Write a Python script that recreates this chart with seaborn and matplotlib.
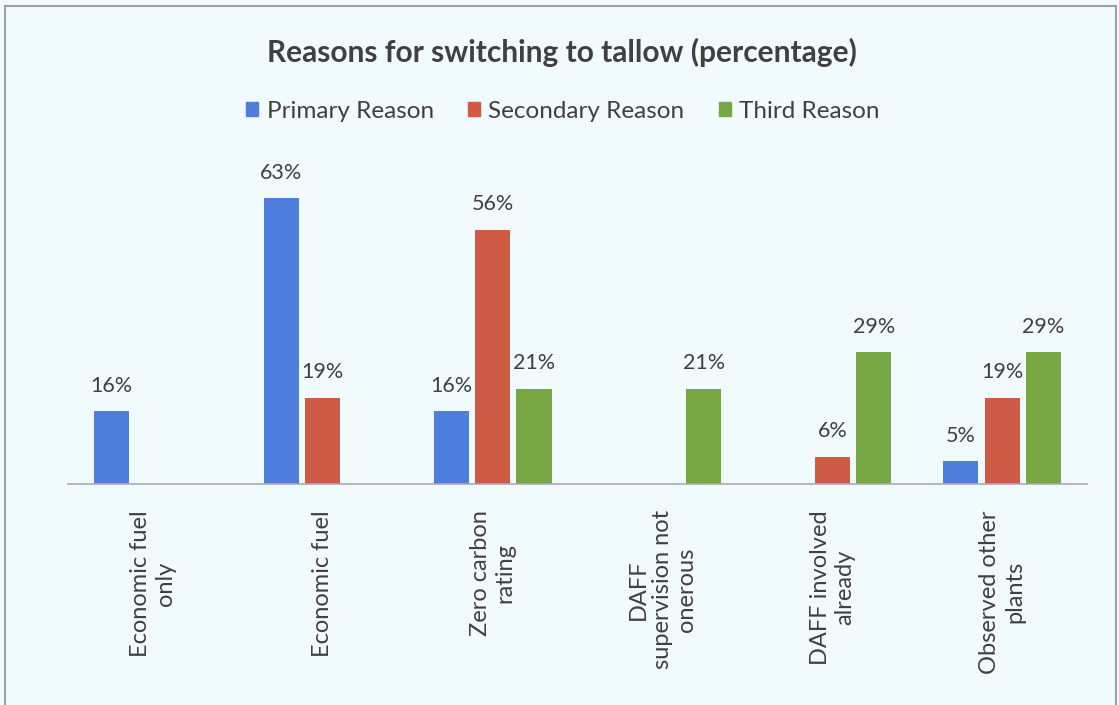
import matplotlib
matplotlib.use("Agg")
import matplotlib.pyplot as plt
from matplotlib.patches import Rectangle
import seaborn as sns
import pandas as pd

categories = [
    "Economic fuel\nonly",
    "Economic fuel",
    "Zero carbon\nrating",
    "DAFF\nsupervision not\nonerous",
    "DAFF involved\nalready",
    "Observed other\nplants",
]
primary = [16, 63, 16, 0, 0, 5]
secondary = [0, 19, 56, 0, 6, 19]
third = [0, 0, 21, 21, 29, 29]
series_names = ["Primary Reason", "Secondary Reason", "Third Reason"]
colors = ["#4f7fdc", "#cd5b45", "#78a843"]

rows = []
for name, vals in zip(series_names, [primary, secondary, third]):
    for cat, v in zip(categories, vals):
        rows.append({"category": cat, "series": name, "value": v})
df = pd.DataFrame(rows)

sns.set_theme(style="white")
plt.rcParams["font.family"] = ["Lato", "DejaVu Sans"]

bg = "#f1fafc"
text_col = "#404040"

fig = plt.figure(figsize=(11.19, 7.05), dpi=100, facecolor=bg)
ax = fig.add_axes([0.0608, 0.3135, 0.9107, 0.451])
ax.set_facecolor(bg)

sns.barplot(
    data=df, x="category", y="value", hue="series",
    hue_order=series_names, order=categories,
    palette=colors, width=0.73, gap=0.15, saturation=1,
    legend=False, ax=ax, linewidth=0,
)

ax.set_xlim(-0.5, len(categories) - 0.5)
ax.set_ylim(0, 70)
ax.set_yticks([])
ax.set_xlabel("")
ax.set_ylabel("")
for s in ["top", "right", "left"]:
    ax.spines[s].set_visible(False)
ax.spines["bottom"].set_color("#a8acb4")
ax.spines["bottom"].set_linewidth(1.2)
ax.tick_params(axis="x", length=0, pad=19)
ax.set_xticks(range(len(categories)))
ax.set_xticklabels(categories, rotation=90, ha="center", va="top",
                   fontsize=17, color=text_col, multialignment="center")

# value labels above each non-empty bar
for container in ax.containers:
    labels = [f"{v:.0f}%" if v > 0 else "" for v in container.datavalues]
    ax.bar_label(container, labels=labels, padding=11, fontsize=15.5,
                 color=text_col)

# legend
handles = [Rectangle((0, 0), 1, 1, color=c) for c in colors]
fig.legend(handles, series_names, loc="center", bbox_to_anchor=(0.503, 0.842),
           ncol=3, frameon=False, fontsize=17.5, handlelength=0.5,
           handleheight=0.5, handletextpad=0.35, columnspacing=1.4,
           labelcolor=text_col)

fig.text(0.502, 0.926, "Reasons for switching to tallow (percentage)",
         ha="center", va="center", fontsize=21.5, fontweight="bold",
         color=text_col)

# outer chart border
fig.patches.append(Rectangle((5 / 1119, -0.01), (1116 - 5) / 1119,
                             1 - 6 / 705 + 0.01, transform=fig.transFigure,
                             fill=False, edgecolor="#9aa0b0", linewidth=1.5))

fig.savefig("out.png", dpi=100, facecolor=bg)
